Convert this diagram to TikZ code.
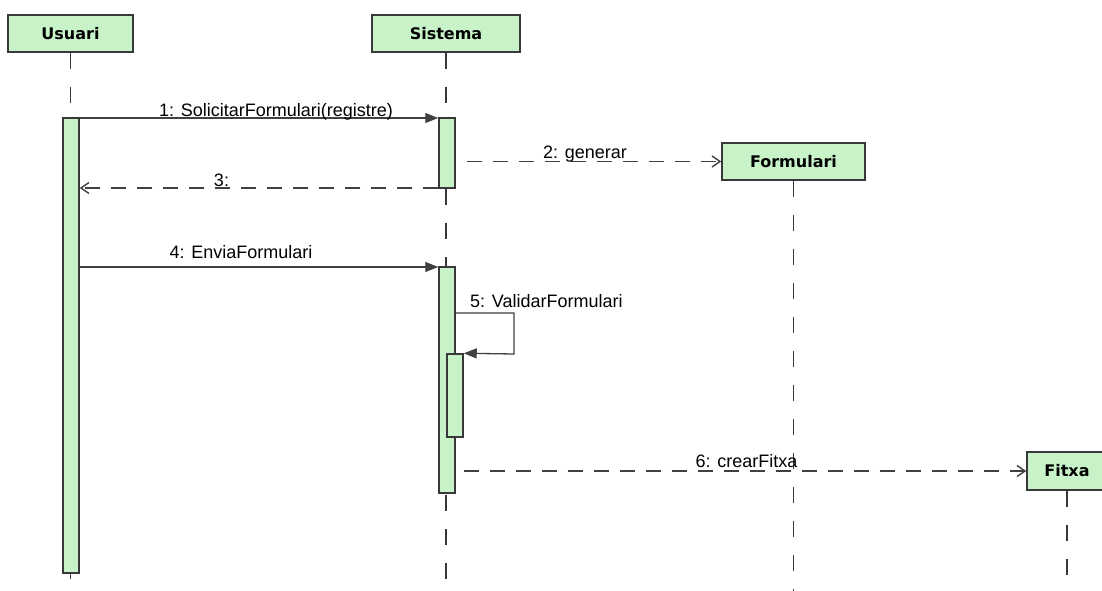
\documentclass[tikz,border=0pt]{standalone}
\usepackage{fontspec}
\setmainfont{Liberation Sans}
\newfontfamily\headfont{DejaVu Sans}
\usetikzlibrary{arrows.meta}
\definecolor{actfill}{RGB}{200,243,200}
\definecolor{edgegray}{RGB}{56,56,56}
\definecolor{msggray}{RGB}{64,64,64}

\begin{document}
\begin{tikzpicture}[x=1pt,y=-1pt,
  lifebox/.style={draw=edgegray, line width=1.5pt, fill=actfill, inner sep=0pt,
    minimum height=37pt, font=\headfont\bfseries\fontsize{16}{16}\selectfont},
  bar/.style={draw=edgegray, line width=1.5pt, fill=actfill, inner sep=0pt, minimum width=16pt},
  lifeline/.style={draw=edgegray, line width=1.4pt, dash pattern=on 16pt off 18pt},
  call/.style={draw=msggray, line width=1.3pt, -{Triangle[length=13pt,width=10pt]}},
  reply/.style={draw=msggray, line width=1.4pt, dash pattern=on 15pt off 11pt,
    -{Straight Barb[length=8pt,width=11pt]}},
  lbl/.style={font=\fontsize{18}{18}\selectfont, inner sep=0pt, anchor=base}
]
\path[use as bounding box, clip] (0,0) rectangle (1102,590);
\fill[white] (0,0) rectangle (1102,590);

% lifeline heads
\node[lifebox, minimum width=125pt] (usuari) at (70.5,33.5) {Usuari};
\node[lifebox, minimum width=148pt] (sistema) at (446,33.5) {Sistema};
\node[lifebox, minimum width=143pt] (formulari) at (793.5,161.5) {Formulari};
\node[lifebox, minimum width=80pt, minimum height=38pt] (fitxa) at (1067,471) {Fitxa};

% lifelines
\coordinate (bottom) at (0,592);
\draw[lifeline] (usuari.south) -- (usuari.south |- bottom);
\draw[lifeline] (sistema.south) -- (sistema.south |- bottom);
\draw[lifeline] (formulari.south) -- (formulari.south |- bottom);
\draw[lifeline] (fitxa.south) -- (fitxa.south |- bottom);

% activation bars
\node[bar, minimum height=455pt] (uact) at (71,345.5) {};
\node[bar, minimum height=70pt] (sact1) at (447,153) {};
\node[bar, minimum height=226pt] (sact2) at (447,380) {};
\node[bar, minimum height=83pt] (sact3) at (455,395.5) {};

% message rows
\coordinate (y1) at (0,118);
\coordinate (y3) at (0,188);
\coordinate (y4) at (0,267);
\coordinate (y5) at (0,313);
\coordinate (turn) at (514,354);

% messages
\draw[call] (uact.east |- y1) -- (sact1.west |- y1);
\draw[reply, dash phase=15pt] (sact1.east |- formulari.west) -- (formulari.west);
\draw[reply] (sact1.west |- y3) -- (uact.east |- y3);
\draw[call] (uact.east |- y4) -- (sact2.west |- y4);
\draw[call] (sact2.east |- y5) -| (turn) -- (sact3.north east);
\draw[reply, dash phase=18pt] (sact2.east |- fitxa.west) -- (fitxa.west);

% message labels
\node[lbl] (l1) at (276,116) {1: SolicitarFormulari(registre)};
\node[lbl] (l2) at (585,158) {2: generar};
\node[lbl] (l3) at (221.5,186) {3:};
\node[lbl] (l4) at (241,258) {4: EnviaFormulari};
\node[lbl, anchor=base west] (l5) at (470,307) {5: ValidarFormulari};
\node[lbl] (l6) at (746.5,467) {6: crearFitxa};
\end{tikzpicture}
\end{document}
